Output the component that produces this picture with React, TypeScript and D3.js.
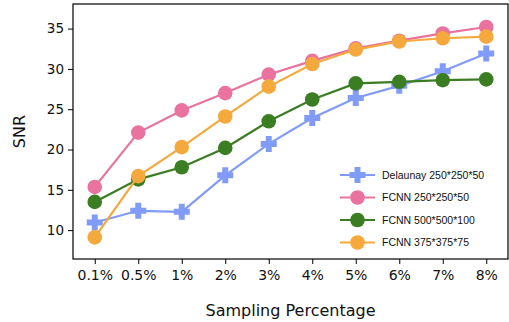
import React, { useEffect, useRef } from 'react';
import * as d3 from 'd3';

const categories = ['0.1%', '0.5%', '1%', '2%', '3%', '4%', '5%', '6%', '7%', '8%'];
const yTicks = [10, 15, 20, 25, 30, 35];

const delaunay250 = [10.95, 12.4, 12.27, 16.8, 20.7, 23.9, 26.4, 27.9, 29.7, 31.9];
const fcnn250 = [15.36, 22.1, 24.85, 27.0, 29.3, 31.0, 32.55, 33.5, 34.4, 35.2];
const fcnn500 = [13.5, 16.3, 17.8, 20.2, 23.5, 26.2, 28.2, 28.4, 28.6, 28.7];
const fcnn375 = [9.1, 16.7, 20.3, 24.1, 27.8, 30.6, 32.4, 33.4, 33.8, 34.0];

const seriesNames = ['Delaunay 250*250*50', 'FCNN 250*250*50', 'FCNN 500*500*100', 'FCNN 375*375*75'];
const seriesColors = ['#809cf8', '#e9729f', '#3a7d22', '#f5a93d'];
const seriesMarkers = ['cross', 'circle', 'circle', 'circle'];

const WIDTH = 509;
const HEIGHT = 322;

const App = () => {
  const svgRef = useRef<SVGSVGElement>(null);

  useEffect(() => {
    if (!svgRef.current) return;
    const svg = d3.select(svgRef.current);
    svg.selectAll('*').remove();

    const margin = { top: 4, right: 1, bottom: 63, left: 73 };
    const innerWidth = WIDTH - margin.left - margin.right;
    const innerHeight = HEIGHT - margin.top - margin.bottom;

    const g = svg.append('g').attr('transform', `translate(${margin.left},${margin.top})`);

    const x = d3.scalePoint<string>().domain(categories).range([0, innerWidth]).padding(0.5);
    const y = d3.scaleLinear().domain([6.42, 38.05]).range([innerHeight, 0]);

    const allSeries = [delaunay250, fcnn250, fcnn500, fcnn375];

    const line = d3.line<number>()
      .x((d, i) => x(categories[i]) as number)
      .y(d => y(d));

    const crossPath = (cx: number, cy: number, arm: number, half: number) =>
      `M${cx - half},${cy - arm}H${cx + half}V${cy - half}H${cx + arm}V${cy + half}H${cx + half}V${cy + arm}H${cx - half}V${cy + half}H${cx - arm}V${cy - half}H${cx - half}Z`;

    allSeries.forEach((values, si) => {
      const color = seriesColors[si];
      g.append('path')
        .datum(values)
        .attr('d', line)
        .attr('fill', 'none')
        .attr('stroke', color)
        .attr('stroke-width', 2.2);

      values.forEach((v, i) => {
        const cx = x(categories[i]) as number;
        const cy = y(v);
        if (seriesMarkers[si] === 'cross') {
          g.append('path').attr('d', crossPath(cx, cy, 8, 3)).attr('fill', color);
        } else {
          g.append('circle').attr('cx', cx).attr('cy', cy).attr('r', 7.3).attr('fill', color);
        }
      });
    });

    // frame
    g.append('rect')
      .attr('width', innerWidth)
      .attr('height', innerHeight)
      .attr('fill', 'none')
      .attr('stroke', '#000')
      .attr('stroke-width', 1.2);

    // y axis
    const yAxis = g.append('g')
      .call(d3.axisLeft(y).tickValues(yTicks).tickSize(5).tickPadding(4));
    yAxis.select('.domain').remove();
    yAxis.selectAll('text')
      .attr('font-family', 'DejaVu Sans')
      .attr('font-size', 13.5)
      .attr('fill', '#111');

    // x axis
    const xAxis = g.append('g')
      .attr('transform', `translate(0,${innerHeight})`)
      .call(d3.axisBottom(x).tickSize(5).tickPadding(6));
    xAxis.select('.domain').remove();
    xAxis.selectAll('text')
      .attr('font-family', 'DejaVu Sans')
      .attr('font-size', 14)
      .attr('fill', '#111');

    // axis titles
    svg.append('text')
      .attr('x', margin.left + innerWidth / 2)
      .attr('y', 316)
      .attr('text-anchor', 'middle')
      .attr('font-family', 'DejaVu Sans')
      .attr('font-size', 16)
      .attr('fill', '#111')
      .text('Sampling Percentage');

    svg.append('text')
      .attr('transform', `translate(25,${margin.top + innerHeight / 2}) rotate(-90)`)
      .attr('text-anchor', 'middle')
      .attr('font-family', 'DejaVu Sans')
      .attr('font-size', 16)
      .attr('fill', '#111')
      .text('SNR');

    // legend
    const legend = svg.append('g').attr('transform', 'translate(340,175)');
    seriesNames.forEach((name, i) => {
      const row = legend.append('g').attr('transform', `translate(0,${i * 22.5})`);
      const color = seriesColors[i];
      row.append('line').attr('x1', 0).attr('x2', 35).attr('stroke', color).attr('stroke-width', 2.2);
      if (seriesMarkers[i] === 'cross') {
        row.append('path').attr('d', crossPath(17.5, 0, 8, 3)).attr('fill', color);
      } else {
        row.append('circle').attr('cx', 17.5).attr('r', 7.3).attr('fill', color);
      }
      row.append('text')
        .attr('x', 42)
        .attr('y', 0)
        .attr('dy', '0.35em')
        .attr('font-family', 'Liberation Sans, Arial, sans-serif')
        .attr('font-size', 10.5)
        .attr('fill', '#111')
        .text(name);
    });
  }, []);

  return (
    <svg
      ref={svgRef}
      width={WIDTH}
      height={HEIGHT}
      style={{ position: 'absolute', left: 0, top: 0, background: '#fff' }}
    />
  );
};

export default App;
